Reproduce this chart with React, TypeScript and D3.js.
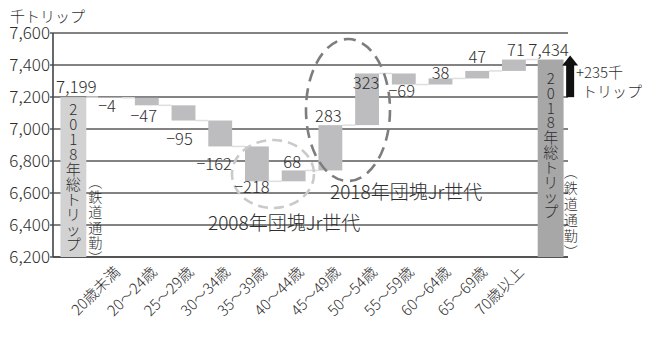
import React from "react";
import * as d3 from "d3";

const W = 648;
const H = 363;

const AGE_LABELS = [
  "20歳未満", "20～24歳", "25～29歳", "30～34歳", "35～39歳", "40～44歳",
  "45～49歳", "50～54歳", "55～59歳", "60～64歳", "65～69歳", "70歳以上",
];
const DELTAS = [-4, -47, -95, -162, -218, 68, 283, 323, -69, 38, 47, 71];
const START_TOTAL = 7199;
const END_TOTAL = 7434;
const Y_TICKS = [6200, 6400, 6600, 6800, 7000, 7200, 7400, 7600];
const TOTAL_TEXT = "2018年総トリップ";
const SUB_TEXT = "鉄道通勤";
const GROUP_2008 = "2008年団塊Jr世代";
const GROUP_2018 = "2018年団塊Jr世代";
const UNIT = "千トリップ";

// label offsets (relative nudges) [dx, dy]
const LABEL_NUDGE: [number, number][] = [
  [-3, 0], [-3, 3], [-4, 10], [-6, 10], [-5, -2], [-1.5, 1.5],
  [-2, 1], [-1, 19.5], [-2, -1.5], [0, 4.5], [0, -4], [2, 0],
];

const FONT = "'Noto Sans CJK JP', 'Noto Sans', sans-serif";
const TXT = "#2e2e2e";
const FW = 300;

const fmt = d3.format(",");
const fmtDelta = (v: number) => (v < 0 ? "−" + Math.abs(v) : String(v));

export default function App() {
  const keys = ["start", ...AGE_LABELS, "end"];
  const x = d3.scaleBand<string>().domain(keys).range([55, 569]).paddingInner(0.35).paddingOuter(0.175);
  const y = d3.scaleLinear().domain([6200, 7600]).range([257, 33]);
  const bw = x.bandwidth();
  const axisX = 53;
  const gridRight = 568;

  // waterfall steps
  let level = START_TOTAL;
  const steps = DELTAS.map((d, i) => {
    const from = level;
    const to = level + d;
    level = to;
    return { key: AGE_LABELS[i], d, from, to };
  });

  const cx = (k: string) => (x(k) as number) + bw / 2;

  const verticalText = (text: string, xc: number, y0: number, step: number, size: number, key: string) =>
    Array.from(text).map((ch, i) => (
      <text key={key + i} x={xc} y={y0 + i * step} textAnchor="middle" dominantBaseline="central"
        fontSize={size} fill={TXT}>{ch}</text>
    ));

  const sub = ["︵", ...Array.from(SUB_TEXT), "︶"].join("");

  const startTop = y(START_TOTAL);
  const endTop = y(END_TOTAL);

  return (
    <svg width={W} height={H} style={{ position: "absolute", left: 0, top: 0, background: "#fff" }}
      fontFamily={FONT} fontWeight={FW}>
      {/* unit */}
      <text x={10} y={22} fontSize={15} fill={TXT}>{UNIT}</text>

      {/* gridlines and y ticks */}
      {Y_TICKS.map((t) => (
        <g key={t}>
          <line x1={axisX - 3} x2={gridRight} y1={y(t)} y2={y(t)} stroke="#5a5a5a" strokeWidth={1.4} />
          <text x={50} y={y(t)} dy="0.36em" textAnchor="end" fontSize={17} fill={TXT}>{fmt(t)}</text>
        </g>
      ))}
      <line x1={axisX} x2={axisX} y1={y(7600)} y2={y(6200)} stroke="#444" strokeWidth={1.6} />
      <line x1={axisX} x2={gridRight} y1={y(6200)} y2={y(6200)} stroke="#444" strokeWidth={1.6} />

      {/* total bars */}
      <rect x={(x("start") as number) - 1} width={bw + 2} y={startTop} height={y(6200) - startTop} fill="#d2d2d3" />
      <rect x={(x("end") as number) - 1} width={bw + 2} y={endTop} height={y(6200) - endTop} fill="#a7a7a8" />

      {/* connectors */}
      {steps.map((s, i) => {
        const prevKey = i === 0 ? "start" : steps[i - 1].key;
        const x1 = (x(prevKey) as number) + bw + (i === 0 ? 1 : 0);
        const x2 = x(s.key) as number;
        return <line key={"c" + i} x1={x1} x2={x2} y1={y(s.from)} y2={y(s.from)} stroke="#dedede" strokeWidth={1.5} />;
      })}
      {(() => {
        const last = steps[steps.length - 1];
        return <line x1={(x(last.key) as number) + bw} x2={(x("end") as number) - 1} y1={y(last.to)} y2={y(last.to)} stroke="#dedede" strokeWidth={1.5} />;
      })()}

      {/* delta bars */}
      {steps.map((s) => (
        <rect key={s.key} x={x(s.key)} width={bw} y={y(Math.max(s.from, s.to))}
          height={Math.max(0.8, Math.abs(y(s.from) - y(s.to)))} fill="#bdbdbf" />
      ))}

      {/* ellipses */}
      <ellipse cx={273} cy={174} rx={41} ry={34} fill="none" stroke="#cacaca" strokeWidth={2.6} strokeDasharray="10 6" />
      <ellipse cx={348} cy={110} rx={42} ry={71} fill="none" stroke="#7d7d7d" strokeWidth={2.6} strokeDasharray="12 7" />

      {/* delta labels */}
      {steps.map((s, i) => {
        const [dx, dy] = LABEL_NUDGE[i];
        const base = s.d < 0 ? y(s.to) + 14 : y(s.to) - 4;
        return (
          <text key={"l" + i} x={cx(s.key) + dx} y={base + dy} textAnchor="middle" fontSize={16.5} fill={TXT}>
            {fmtDelta(s.d)}
          </text>
        );
      })}

      {/* total labels */}
      <text x={cx("start") + 3} y={startTop - 4} textAnchor="middle" fontSize={17} fill={TXT}>{fmt(START_TOTAL)}</text>
      <text x={cx("end") - 2} y={endTop - 4} textAnchor="middle" fontSize={17} fill={TXT}>{fmt(END_TOTAL)}</text>

      {/* vertical texts */}
      {verticalText(TOTAL_TEXT, cx("start"), startTop + 11, 15, 15, "ls")}
      {verticalText(sub, cx("start") + 22, 181, 15.2, 14, "lsub")}
      {verticalText(TOTAL_TEXT, cx("end"), endTop + 18, 14.8, 15, "rs")}
      {verticalText(sub, cx("end") + 20, 171, 16, 14, "rsub")}

      {/* arrow */}
      {(() => {
        const ax = cx("end") + 19.5;
        const yb = y(START_TOTAL);
        const yt = y(END_TOTAL) - 4;
        const headH = 10;
        return (
          <g>
            <rect x={ax - 4} width={8} y={yt + headH - 1} height={yb - yt - headH + 1} fill="#111" />
            <path d={`M${ax - 8},${yt + headH} L${ax},${yt} L${ax + 8},${yt + headH} Z`} fill="#111" />
          </g>
        );
      })()}
      <text x={576} y={78} fontSize={15} fill={TXT}>+{END_TOTAL - START_TOTAL}千</text>
      <text x={582} y={97} fontSize={15} fill={TXT}>トリップ</text>

      {/* group labels */}
      <text x={208} y={230} fontSize={19} fill={TXT}>{GROUP_2008}</text>
      <text x={330} y={199} fontSize={19} fill={TXT}>{GROUP_2018}</text>

      {/* x labels */}
      {AGE_LABELS.map((l) => (
        <text key={l} transform={`translate(${cx(l) + 11},273) rotate(-45)`} textAnchor="end"
          fontSize={15} fill={TXT}>{l}</text>
      ))}
    </svg>
  );
}
